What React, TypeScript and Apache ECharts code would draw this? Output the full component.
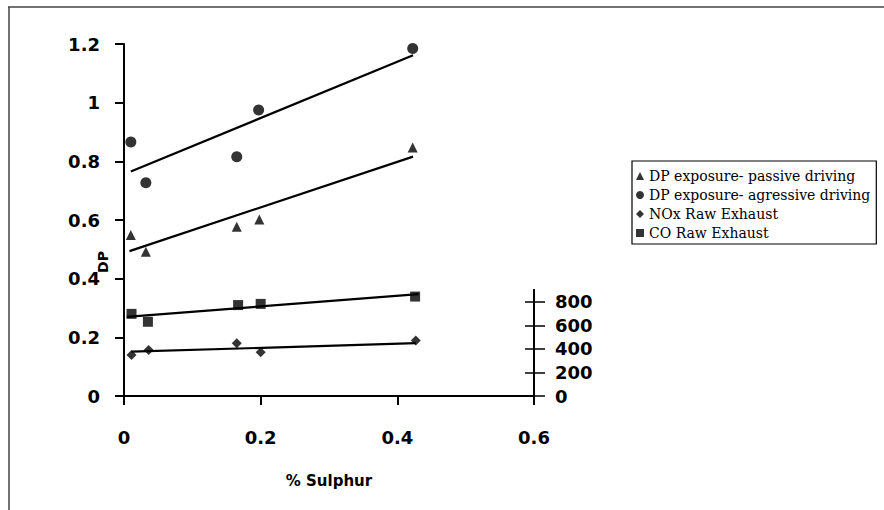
import React, { useEffect, useRef } from "react";
import * as echarts from "echarts";

// % Sulphur (x) and DP values (y)
const passiveX = [0.01, 0.032, 0.165, 0.198, 0.4225];
const passiveY = [0.549, 0.492, 0.577, 0.602, 0.847];
const aggressiveX = [0.01, 0.032, 0.165, 0.197, 0.4225];
const aggressiveY = [0.866, 0.727, 0.816, 0.975, 1.185];
const noxX = [0.011, 0.036, 0.165, 0.2, 0.427];
const noxY = [0.14, 0.157, 0.18, 0.149, 0.189];
const coX = [0.011, 0.035, 0.167, 0.2, 0.426];
const coY = [0.28, 0.253, 0.31, 0.314, 0.339];

// trend line endpoints
const passiveTrend = [[0.008, 0.494], [0.423, 0.816]];
const aggressiveTrend = [[0.01, 0.765], [0.423, 1.162]];
const noxTrend = [[0.011, 0.151], [0.427, 0.18]];
const coTrend = [[0.004, 0.27], [0.431, 0.347]];

const seriesNames = [
  "DP exposure- passive driving",
  "DP exposure- agressive driving",
  "NOx Raw Exhaust",
  "CO Raw Exhaust",
];

const secondaryTicks = [0, 200, 400, 600, 800];

const zip = (xs: number[], ys: number[]) => xs.map((x, i) => [x, ys[i]]);

export default function App() {
  const ref = useRef<HTMLDivElement>(null);
  useEffect(() => {
    if (!ref.current) return;
    const chart = echarts.init(ref.current, null, { renderer: "svg" });
    const tickFont = { fontFamily: "DejaVu Sans", fontSize: 18, fontWeight: "bold", color: "#000" };
    const axisLine = { show: true, lineStyle: { color: "#000", width: 2 } };
    const trendStyle = { color: "#000", width: 2.2 };
    const mkTrend = (d: number[][]) => ({
      type: "line",
      data: d,
      showSymbol: false,
      symbol: "none",
      lineStyle: trendStyle,
      silent: true,
      z: 1,
    });
    chart.setOption({
      animation: false,
      backgroundColor: "#fff",
      grid: [
        { left: 124, right: 350, top: 44, bottom: 114 },
        { left: 124, right: 350, top: 290, bottom: 114 },
      ],
      xAxis: [
        {
          gridIndex: 0,
          type: "value",
          min: 0,
          max: 0.6,
          interval: 0.2,
          splitLine: { show: false },
          axisLine: { ...axisLine, onZero: false },
          axisTick: { show: true, length: 9, lineStyle: { color: "#000", width: 2 } },
          axisLabel: { ...tickFont, margin: 32 },
          name: "% Sulphur",
          nameLocation: "middle",
          nameGap: 77,
          nameMoveOverlap: false,
          nameTextStyle: { fontFamily: "DejaVu Sans", fontSize: 15, fontWeight: "bold", color: "#000" },
        },
        {
          gridIndex: 1,
          type: "value",
          min: 0,
          max: 0.6,
          show: false,
        },
      ],
      yAxis: [
        {
          gridIndex: 0,
          type: "value",
          min: 0,
          max: 1.2,
          interval: 0.2,
          splitLine: { show: false },
          axisLine: { ...axisLine, onZero: false },
          axisTick: { show: true, length: 9, lineStyle: { color: "#000", width: 2 } },
          axisLabel: { ...tickFont, margin: 24 },
        },
        {
          gridIndex: 1,
          type: "value",
          position: "right",
          min: 0,
          max: 900,
          splitLine: { show: false },
          axisLine: { ...axisLine, onZero: false },
          axisTick: {
            show: true,
            inside: true,
            length: 9,
            customValues: secondaryTicks,
            lineStyle: { color: "#000", width: 1.5 },
          },
          axisLabel: { show: false },
        },
        {
          gridIndex: 1,
          type: "value",
          position: "right",
          min: 0,
          max: 900,
          splitLine: { show: false },
          axisLine: { ...axisLine, onZero: false },
          axisTick: {
            show: true,
            length: 11,
            customValues: secondaryTicks,
            lineStyle: { color: "#000", width: 1.5 },
          },
          axisLabel: { ...tickFont, margin: 21, customValues: secondaryTicks },
        },
      ],
      legend: {
        data: seriesNames,
        orient: "vertical",
        left: 632,
        top: 161,
        padding: [8, 6, 4, 4],
        itemGap: 5,
        itemWidth: 8,
        itemHeight: 8,
        borderColor: "#000",
        borderWidth: 1.2,
        backgroundColor: "#fff",
        selectedMode: false,
        textStyle: { fontFamily: "DejaVu Serif", fontSize: 14, color: "#000", width: 250, overflow: "none" },
      },
      graphic: [
        { type: "line", shape: { x1: 8, y1: 7, x2: 884, y2: 7 }, style: { stroke: "#444", lineWidth: 1.5 } },
        { type: "line", shape: { x1: 9, y1: 7, x2: 9, y2: 510 }, style: { stroke: "#444", lineWidth: 1.5 } },
        {
          type: "text",
          x: 103,
          y: 262,
          rotation: Math.PI / 2,
          style: {
            text: "DP",
            fontFamily: "DejaVu Sans",
            fontSize: 14,
            fontWeight: "bold",
            fill: "#000",
            align: "center",
            verticalAlign: "middle",
          },
        },
      ],
      series: [
        {
          name: seriesNames[0],
          type: "scatter",
          symbol: "triangle",
          symbolSize: 10,
          itemStyle: { color: "#000" },
          data: zip(passiveX, passiveY),
          z: 3,
        },
        {
          name: seriesNames[1],
          type: "scatter",
          symbol: "circle",
          symbolSize: 11,
          itemStyle: { color: "#000" },
          data: zip(aggressiveX, aggressiveY),
          z: 3,
        },
        {
          name: seriesNames[2],
          type: "scatter",
          symbol: "diamond",
          symbolSize: 10,
          itemStyle: { color: "#000" },
          data: zip(noxX, noxY),
          z: 3,
        },
        {
          name: seriesNames[3],
          type: "scatter",
          symbol: "rect",
          symbolSize: 10,
          itemStyle: { color: "#000" },
          data: zip(coX, coY),
          z: 3,
        },
        mkTrend(passiveTrend),
        mkTrend(aggressiveTrend),
        mkTrend(noxTrend),
        mkTrend(coTrend),
      ],
    });
    return () => chart.dispose();
  }, []);
  return (
    <div
      ref={ref}
      style={{ position: "fixed", left: 0, top: 0, width: 884, height: 510, background: "#fff" }}
    />
  );
}
